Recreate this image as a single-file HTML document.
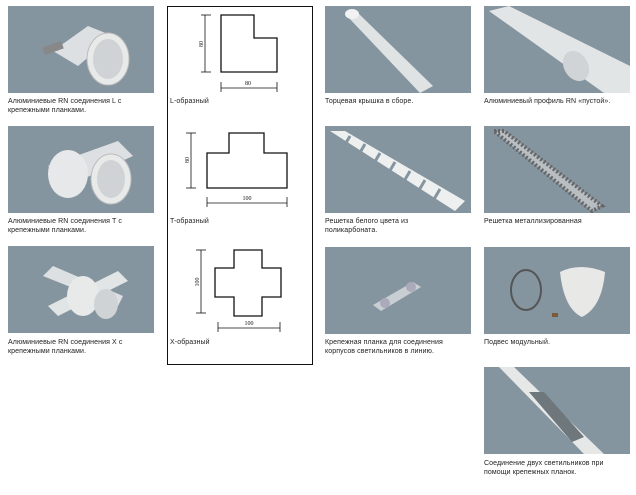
<!DOCTYPE html>
<html><head><meta charset="utf-8"><style>
body{margin:0;width:636px;height:495px;background:#fff;position:relative;font-family:"Liberation Sans","DejaVu Sans",sans-serif;overflow:hidden}
.t{position:absolute;width:146px;height:87px;background:#8595a0}
.c{position:absolute;font-size:7px;line-height:9px;color:#222;letter-spacing:0.1px}
</style></head><body>
<!-- column 1 -->
<div class="t" style="left:8px;top:6px"><svg width="146" height="87"><path d="M45 45 L80 20 L105 30 L70 60 Z" fill="#dde0e2"/><ellipse cx="100" cy="53" rx="21" ry="26" fill="#e8eaea" stroke="#bbb"/><ellipse cx="100" cy="53" rx="15" ry="20" fill="#cfd3d5"/><rect x="35" y="38" width="20" height="8" fill="#888" transform="rotate(-20 45 42)"/></svg></div>
<div class="c" style="left:8px;top:97px">Алюминиевые RN соединения L с<br>крепежными планками.</div>
<div class="t" style="left:8px;top:126px"><svg width="146" height="87"><path d="M40 40 L110 15 L125 30 L60 60 Z" fill="#dde0e2"/><ellipse cx="60" cy="48" rx="20" ry="24" fill="#e6e8e9"/><ellipse cx="103" cy="53" rx="20" ry="25" fill="#e8eaea" stroke="#bbb"/><ellipse cx="103" cy="53" rx="14" ry="19" fill="#cfd3d5"/></svg></div>
<div class="c" style="left:8px;top:217px">Алюминиевые RN соединения T с<br>крепежными планками.</div>
<div class="t" style="left:8px;top:246px"><svg width="146" height="87"><path d="M35 30 L110 60 L115 50 L45 20 Z" fill="#dde0e2"/><path d="M40 60 L110 25 L120 35 L50 70 Z" fill="#e2e5e6"/><ellipse cx="75" cy="50" rx="16" ry="20" fill="#e8eaea"/><ellipse cx="98" cy="58" rx="12" ry="15" fill="#cfd3d5"/></svg></div>
<div class="c" style="left:8px;top:338px">Алюминиевые RN соединения X с<br>крепежными планками.</div>
<!-- column 2 box -->
<div style="position:absolute;left:167px;top:6px;width:144px;height:357px;border:1px solid #111"></div>
<svg style="position:absolute;left:0;top:0" width="636" height="495">
<g fill="none" stroke="#111" stroke-width="1.3">
<path d="M221 15 H254 V38 H277 V72 H221 Z"/>
<path d="M229 133 H264 V153 H287 V188 H207 V153 H229 Z"/>
<path d="M234 250 H262 V268 H281 V297 H262 V316 H234 V297 H215 V268 H234 Z"/>
</g>
<g stroke="#111" stroke-width="0.8">
<line x1="205" y1="15" x2="205" y2="72"/><line x1="201" y1="15" x2="211" y2="15"/><line x1="201" y1="72" x2="211" y2="72"/>
<line x1="221" y1="88" x2="277" y2="88"/><line x1="221" y1="82" x2="221" y2="92"/><line x1="277" y1="82" x2="277" y2="92"/>
<line x1="191" y1="133" x2="191" y2="188"/><line x1="186" y1="133" x2="196" y2="133"/><line x1="186" y1="188" x2="196" y2="188"/>
<line x1="207" y1="203" x2="287" y2="203"/><line x1="207" y1="197" x2="207" y2="207"/><line x1="287" y1="197" x2="287" y2="207"/>
<line x1="201" y1="250" x2="201" y2="313"/><line x1="196" y1="250" x2="206" y2="250"/><line x1="196" y1="313" x2="206" y2="313"/>
<line x1="218" y1="328" x2="280" y2="328"/><line x1="218" y1="322" x2="218" y2="332"/><line x1="280" y1="322" x2="280" y2="332"/>
</g>
<g font-family="Liberation Serif,serif" font-size="6" fill="#111" text-anchor="middle">
<text x="248" y="85">80</text><text x="247" y="200">100</text><text x="249" y="325">100</text>
<text transform="translate(203 44) rotate(-90)">80</text>
<text transform="translate(189 160) rotate(-90)">80</text>
<text transform="translate(199 282) rotate(-90)">100</text>
</g>
</svg>
<div class="c" style="left:170px;top:97px">L-образный</div>
<div class="c" style="left:170px;top:217px">T-образный</div>
<div class="c" style="left:170px;top:338px">X-образный</div>
<!-- column 3 -->
<div class="t" style="left:325px;top:6px"><svg width="146" height="87"><path d="M22 10 L32 6 L108 80 L95 87 Z" fill="#e0e3e4"/><ellipse cx="27" cy="8" rx="7" ry="5" fill="#f2f2f2"/></svg></div>
<div class="c" style="left:325px;top:97px">Торцевая крышка в сборе.</div>
<div class="t" style="left:325px;top:126px"><svg width="146" height="87"><path d="M5 5 L20 5 L140 75 L130 85 Z" fill="#eef0f0"/><g stroke="#8595a0" stroke-width="3"><line x1="25" y1="10" x2="18" y2="22"/><line x1="40" y1="18" x2="33" y2="30"/><line x1="55" y1="27" x2="48" y2="39"/><line x1="70" y1="36" x2="63" y2="48"/><line x1="85" y1="45" x2="78" y2="57"/><line x1="100" y1="54" x2="93" y2="66"/><line x1="115" y1="63" x2="108" y2="75"/></g></svg></div>
<div class="c" style="left:325px;top:217px">Решетка белого цвета из<br>поликарбоната.</div>
<div class="t" style="left:325px;top:247px"><svg width="146" height="87"><path d="M48 58 L88 35 L96 40 L56 64 Z" fill="#c8ced2"/><circle cx="86" cy="40" r="5" fill="#aab"/><circle cx="60" cy="56" r="5" fill="#aab"/></svg></div>
<div class="c" style="left:325px;top:338px">Крепежная планка для соединения<br>корпусов светильников в линию.</div>
<!-- column 4 -->
<div class="t" style="left:484px;top:6px"><svg width="146" height="87"><path d="M5 5 L25 0 L146 60 L146 87 L120 87 Z" fill="#e2e5e6"/><ellipse cx="92" cy="60" rx="12" ry="16" fill="#d0d4d6" transform="rotate(-30 92 60)"/></svg></div>
<div class="c" style="left:484px;top:97px">Алюминиевый профиль RN «пустой».</div>
<div class="t" style="left:484px;top:126px"><svg width="146" height="87"><path d="M10 5 L20 5 L118 80 L108 85 Z" fill="#b8bec2" stroke="#666" stroke-width="4" stroke-dasharray="2 2"/></svg></div>
<div class="c" style="left:484px;top:217px">Решетка металлизированная</div>
<div class="t" style="left:484px;top:247px"><svg width="146" height="87"><ellipse cx="42" cy="43" rx="15" ry="20" fill="none" stroke="#555" stroke-width="2"/><path d="M76 25 Q96 15 121 25 Q118 60 98 70 Q80 62 76 25 Z" fill="#e8e8e6"/><rect x="68" y="66" width="6" height="4" fill="#7a5a3a"/></svg></div>
<div class="c" style="left:484px;top:338px">Подвес модульный.</div>
<div class="t" style="left:484px;top:367px"><svg width="146" height="87"><path d="M15 0 L30 0 L120 87 L100 87 Z" fill="#e6e8e8"/><path d="M45 25 L60 25 L100 70 L88 75 Z" fill="#6d777c"/></svg></div>
<div class="c" style="left:484px;top:459px">Соединение двух светильников при<br>помощи крепежных планок.</div>
</body></html>
